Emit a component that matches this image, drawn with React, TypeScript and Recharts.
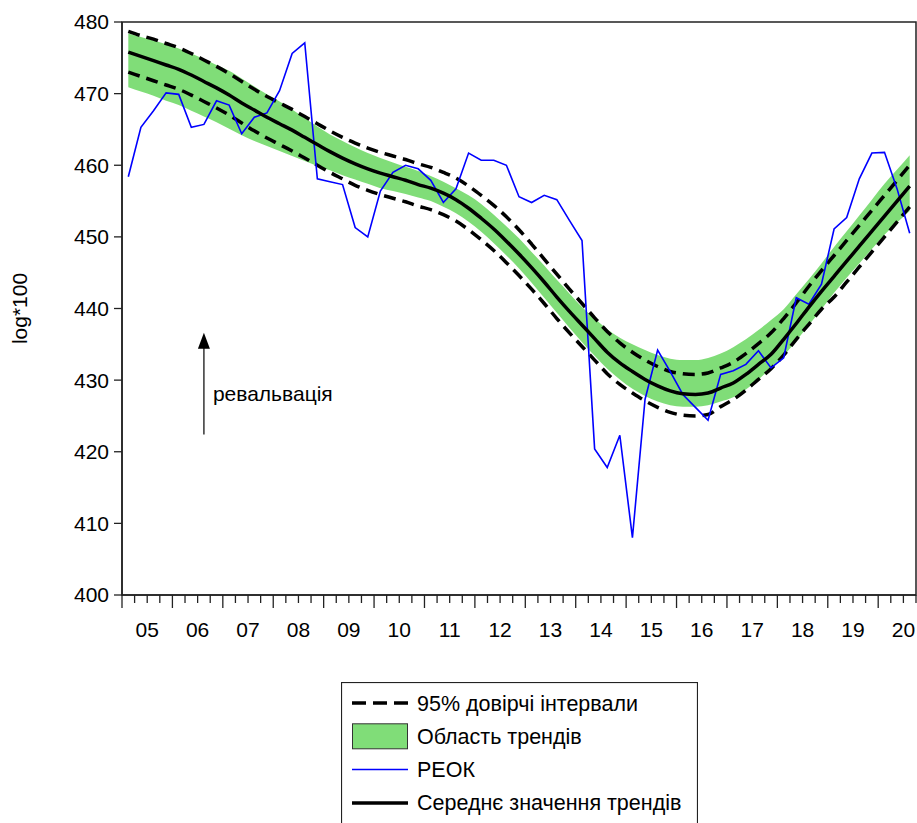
import React from "react";
import {
  ComposedChart,
  Area,
  Line,
  XAxis,
  YAxis,
  ReferenceArea,
  ReferenceLine,
  ReferenceDot,
} from "recharts";

const FONT = "'Liberation Sans', Arial, sans-serif";

// quarterly data, 2005Q1 .. 2020Q3
const YEAR_LABELS = ["05", "06", "07", "08", "09", "10", "11", "12", "13", "14", "15", "16", "17", "18", "19", "20"];
const Y_TICKS = [400, 410, 420, 430, 440, 450, 460, 470, 480];

const REOK = [
  458.4, 465.3, 467.6, 470.1, 469.9, 465.3, 465.7, 469.0, 468.4, 464.4, 466.7, 467.3, 470.4, 475.6, 477.1, 458.1,
  457.7, 457.3, 451.3, 450.0, 456.4, 459.0, 460.0, 459.5, 457.9, 454.8, 456.7, 461.7, 460.7, 460.7, 460.0, 455.6,
  454.8, 455.8, 455.2, 452.3, 449.5, 420.4, 417.8, 422.3, 408.0, 427.3, 434.2, 431.2, 428.0, 426.2, 424.4, 430.8,
  431.3, 432.2, 434.1, 431.7, 433.1, 441.5, 440.6, 443.4, 451.1, 452.7, 458.1, 461.7, 461.8, 456.7, 450.5,
];

const TREND_MEAN = [
  475.8, 475.2, 474.6, 474.0, 473.4, 472.6, 471.7, 470.8, 469.8, 468.7, 467.7, 466.7, 465.8, 464.9, 463.9, 462.9,
  461.9, 461.0, 460.2, 459.5, 458.9, 458.4, 457.9, 457.3, 456.8, 456.1, 455.2, 454.0, 452.6, 451.1, 449.4, 447.6,
  445.7, 443.7, 441.6, 439.6, 437.7, 435.8, 433.9, 432.4, 431.2, 430.1, 429.2, 428.5, 428.1, 428.0, 428.2, 428.9,
  429.6, 430.8, 432.2, 433.6, 435.7, 437.9, 440.2, 442.4, 444.5, 446.6, 448.7, 450.8, 452.9, 455.0, 457.1,
];

const CI_UPPER = [
  478.7, 478.1, 477.6, 477.0, 476.4, 475.6, 474.7, 473.8, 472.8, 471.7, 470.6, 469.6, 468.7, 467.8, 466.8, 465.8,
  464.8, 463.9, 463.1, 462.4, 461.8, 461.3, 460.8, 460.2, 459.7, 459.0, 458.2, 457.1, 455.8, 454.4, 452.8, 451.0,
  449.0, 446.9, 444.8, 442.7, 440.7, 438.7, 436.8, 435.2, 433.9, 432.8, 431.9, 431.2, 430.9, 430.8, 431.0, 431.7,
  432.5, 433.7, 435.1, 436.6, 438.6, 440.8, 443.1, 445.3, 447.4, 449.5, 451.6, 453.7, 455.8, 457.9, 460.0,
];

const CI_LOWER = [
  473.0, 472.4, 471.8, 471.2, 470.6, 469.8, 468.9, 468.0, 467.0, 465.9, 464.8, 463.8, 462.9, 462.0, 461.0, 460.0,
  459.0, 458.1, 457.2, 456.5, 455.9, 455.4, 454.9, 454.3, 453.8, 453.1, 452.2, 451.0, 449.6, 448.1, 446.4, 444.6,
  442.7, 440.7, 438.6, 436.6, 434.7, 432.8, 430.9, 429.4, 428.2, 427.1, 426.2, 425.5, 425.1, 425.0, 425.2, 426.3,
  427.3, 428.6, 430.1, 431.6, 433.5, 435.7, 437.8, 439.9, 441.6, 443.7, 445.8, 447.9, 450.0, 452.1, 454.2,
];

const BAND_HIGH = [
  478.4, 477.9, 477.4, 476.9, 476.3, 475.6, 474.8, 474.0, 473.2, 472.1, 471.0, 469.9, 468.9, 467.8, 466.6, 465.4,
  464.3, 463.4, 462.5, 461.7, 461.0, 460.4, 459.8, 459.2, 458.5, 457.7, 456.8, 455.8, 454.6, 453.1, 451.5, 449.8,
  447.9, 446.0, 444.0, 442.1, 440.2, 438.6, 437.1, 435.9, 435.0, 434.2, 433.5, 433.0, 432.8, 432.8, 433.1, 433.7,
  434.6, 435.7, 437.0, 438.4, 439.9, 442.0, 444.1, 446.3, 448.6, 450.8, 453.0, 455.2, 457.4, 459.4, 461.4,
];

const BAND_LOW = [
  470.9, 470.3, 469.7, 469.0, 468.4, 467.6, 466.8, 466.0, 465.1, 464.2, 463.4, 462.7, 462.0, 461.3, 460.6, 459.9,
  459.3, 458.6, 458.0, 457.4, 456.8, 456.4, 456.0, 455.5, 455.0, 454.2, 453.3, 452.1, 450.7, 449.1, 447.4, 445.6,
  443.6, 441.5, 439.4, 437.3, 435.3, 433.4, 431.6, 430.1, 428.8, 427.8, 427.0, 426.5, 426.3, 426.3, 426.5, 427.0,
  427.6, 428.7, 430.1, 431.7, 433.4, 435.5, 437.7, 439.9, 442.2, 444.3, 446.3, 448.3, 450.3, 452.0, 453.6,
];

const data = REOK.map((v, i) => ({
  i,
  reok: v,
  mean: TREND_MEAN[i],
  upper: CI_UPPER[i],
  lower: CI_LOWER[i],
  band: [BAND_LOW[i], BAND_HIGH[i]],
}));

// quarter boundaries as ticks; year labels sit on the mid-year boundary
const xTicks = Array.from({ length: REOK.length + 1 }, (_, k) => k - 0.5);

function XTick(props: any) {
  const { x, y, payload } = props;
  const v = payload.value;
  const major = (v + 0.5) % 4 === 0;
  const k = (v - 1.5) / 4;
  const label = Number.isInteger(k) ? YEAR_LABELS[k] : null;
  return (
    <g>
      <line x1={x} x2={x} y1={y} y2={y + (major ? 13 : 8)} stroke="#222" strokeWidth={1.3} />
      {label && (
        <text x={x} y={y + 42} textAnchor="middle" fontSize={21} fontFamily={FONT} fill="#000">
          {label}
        </text>
      )}
    </g>
  );
}

const GREEN = "#80DD78";

function LegendBox() {
  const rowY = (n: number) => 21 + n * 33.3;
  const text = (n: number, s: string) => (
    <text x={76} y={rowY(n) + 7.5} fontSize={21.5} fontFamily={FONT} fill="#000">
      {s}
    </text>
  );
  return (
    <svg width={357} height={160} style={{ display: "block" }}>
      <rect x={0.5} y={0.5} width={356} height={170} fill="#fff" stroke="#222" strokeWidth={1.2} />
      <line x1={11} x2={67} y1={rowY(0)} y2={rowY(0)} stroke="#000" strokeWidth={3.5} strokeDasharray="14 7" />
      {text(0, "95% довірчі інтервали")}
      <rect x={11.5} y={rowY(1) - 12.5} width={55} height={25} fill={GREEN} stroke="#333" strokeWidth={1} />
      {text(1, "Область трендів")}
      <line x1={11} x2={67} y1={rowY(2)} y2={rowY(2)} stroke="#0000FF" strokeWidth={1.5} />
      {text(2, "РЕОК")}
      <line x1={11} x2={67} y1={rowY(3)} y2={rowY(3)} stroke="#000" strokeWidth={3.5} />
      {text(3, "Середнє значення трендів")}
    </svg>
  );
}

export default function App() {
  return (
    <div style={{ position: "absolute", left: 0, top: 0, width: 917, height: 823, background: "#fff" }}>
      <ComposedChart width={917} height={823} data={data} margin={{ top: 22, right: 1, bottom: 188, left: 0 }}>
        <XAxis
          dataKey="i"
          type="number"
          domain={[-0.5, 62.5]}
          ticks={xTicks}
          interval={0}
          tick={<XTick />}
          tickLine={false}
          tickSize={0}
          tickMargin={0}
          height={40}
          axisLine={{ stroke: "#222", strokeWidth: 1.5 }}
          allowDataOverflow
        />
        <YAxis
          type="number"
          domain={[400, 480]}
          ticks={Y_TICKS}
          width={122}
          tickSize={8}
          tickMargin={5}
          tick={{ fontSize: 21, fill: "#000", fontFamily: FONT }}
          tickLine={{ stroke: "#222", strokeWidth: 1.3 }}
          axisLine={{ stroke: "#222", strokeWidth: 1.5 }}
          label={{
            value: "log*100",
            angle: -90,
            position: "insideLeft",
            offset: 20,
            style: { fontSize: 21, fontFamily: FONT, fill: "#000", textAnchor: "middle" },
          }}
        />
        <Area
          dataKey="band"
          type="monotone"
          fill={GREEN}
          fillOpacity={1}
          stroke="none"
          isAnimationActive={false}
          dot={false}
          activeDot={false}
        />
        <Line dataKey="upper" type="monotone" stroke="#000" strokeWidth={3.5} strokeDasharray="12 7" dot={false} activeDot={false} isAnimationActive={false} />
        <Line dataKey="lower" type="monotone" stroke="#000" strokeWidth={3.5} strokeDasharray="12 7" dot={false} activeDot={false} isAnimationActive={false} />
        <Line dataKey="reok" type="linear" stroke="#0000FF" strokeWidth={1.6} dot={false} activeDot={false} isAnimationActive={false} />
        <Line dataKey="mean" type="monotone" stroke="#000" strokeWidth={3.5} dot={false} activeDot={false} isAnimationActive={false} />
        <ReferenceArea x1={-0.5} x2={62.5} y1={400} y2={480} fill="none" fillOpacity={0} stroke="#222" strokeWidth={1.5} ifOverflow="visible" />
        <ReferenceLine segment={[{ x: 6, y: 422.4 }, { x: 6, y: 434.6 }]} stroke="#000" strokeWidth={1.2} />
        <ReferenceDot
          x={6}
          y={436.6}
          r={0}
          shape={(p: any) => (
            <polygon points={`${p.cx},${p.cy} ${p.cx - 6},${p.cy + 16} ${p.cx + 6},${p.cy + 16}`} fill="#000" />
          )}
        />
        <ReferenceDot
          x={6}
          y={428}
          r={0}
          shape={(p: any) => (
            <text x={p.cx + 9} y={p.cy + 7} fontSize={21} fontFamily={FONT} fill="#000">
              ревальвація
            </text>
          )}
        />
      </ComposedChart>
      <div style={{ position: "absolute", left: 341, top: 682 }}>
        <LegendBox />
      </div>
    </div>
  );
}
